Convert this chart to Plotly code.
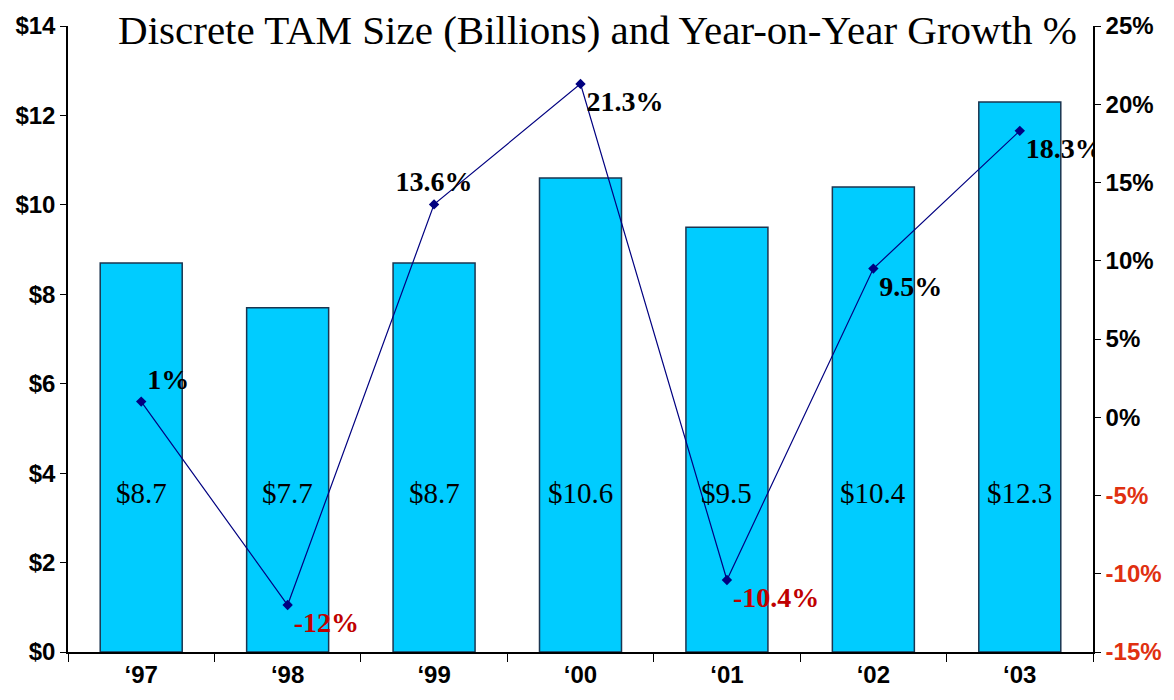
import plotly.graph_objects as go

years = ["\u201897", "\u201898", "\u201899", "\u201800", "\u201801", "\u201802", "\u201803"]
tam = [8.7, 7.7, 8.7, 10.6, 9.5, 10.4, 12.3]
growth = [1.0, -12.0, 13.6, 21.3, -10.4, 9.5, 18.3]
growth_labels = ["1%", "-12%", "13.6%", "21.3%", "-10.4%", "9.5%", "18.3%"]
left_ticks = [0, 2, 4, 6, 8, 10, 12, 14]
right_ticks = [-15, -10, -5, 0, 5, 10, 15, 20, 25]

label_pos = ["top right", "bottom right", "top center", "bottom right",
             "bottom right", "bottom right", "bottom right"]

fig = go.Figure()
fig.add_trace(go.Bar(
    x=years, y=tam, width=0.56,
    marker=dict(color="#00CCFF", line=dict(color="#1B3550", width=1.5)),
    showlegend=False, hoverinfo="skip",
))
fig.add_trace(go.Scatter(
    x=years, y=growth, yaxis="y2", mode="lines+markers+text",
    line=dict(color="#000080", width=1.2),
    marker=dict(symbol="diamond", size=8, color="#000080"),
    text=growth_labels, textposition=label_pos,
    textfont=dict(family="Liberation Serif", size=28, weight="bold",
                  color=["#000000" if g >= 0 else "#C00000" for g in growth]),
    showlegend=False, hoverinfo="skip",
))

for yr, v in zip(years, tam):
    fig.add_annotation(x=yr, y=0.225, xref="x", yref="paper",
                       text=f"${v:.1f}", showarrow=False,
                       font=dict(family="Liberation Serif", size=29, color="#000000"))

tick_font = dict(family="Liberation Sans", size=24, color="#000", weight="bold")

fig.update_layout(
    width=1174, height=700,
    margin=dict(l=68, r=79, t=25, b=43),
    paper_bgcolor="white", plot_bgcolor="white",
    title=dict(text="Discrete TAM Size (Billions) and Year-on-Year Growth %",
               x=0.509, xanchor="center", y=0.957, yanchor="middle",
               font=dict(family="Liberation Serif", size=41, color="#000000")),
    xaxis=dict(type="category", tickson="boundaries", ticks="outside", ticklen=8,
               tickcolor="#000", showline=True, linecolor="#000", linewidth=1.5,
               tickfont=tick_font, showgrid=False),
    yaxis=dict(range=[0, 14], tickvals=left_ticks,
               ticktext=[f"${t}" for t in left_ticks],
               ticks="outside", ticklen=6, tickcolor="#000",
               showline=True, linecolor="#000", linewidth=1.5, showgrid=False,
               zeroline=False, tickfont=tick_font),
    yaxis2=dict(range=[-15, 25], overlaying="y", side="right", tickvals=right_ticks,
                ticktext=[(f"<span style='color:#E03010'>{t}%</span>" if t < 0 else f"{t}%")
                          for t in right_ticks],
                ticks="outside", ticklen=6, tickcolor="#000",
                showline=True, linecolor="#000", linewidth=1.5, showgrid=False,
                zeroline=False, tickfont=tick_font),
)

fig.write_html("out.html", config={"displayModeBar": False},
               post_script="document.body.style.margin='0';document.body.style.overflow='hidden';")
